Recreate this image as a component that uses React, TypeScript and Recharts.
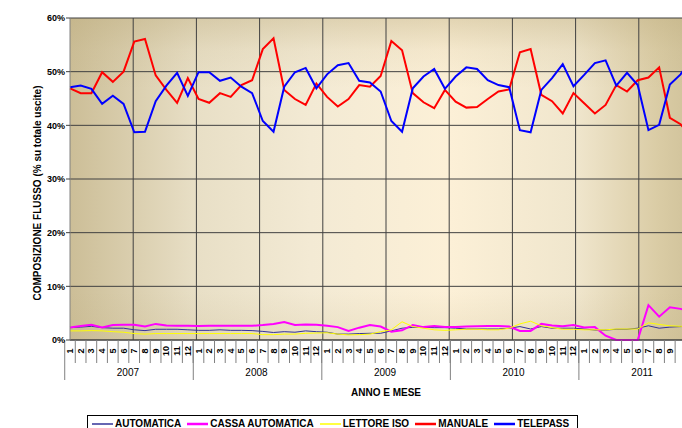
import React from 'react';
import { LineChart, Line, XAxis, YAxis, CartesianGrid, Legend } from 'recharts';

const years = ['2007', '2008', '2009', '2010', '2011'];
const monthLabels = ['1', '2', '3', '4', '5', '6', '7', '8', '9', '10', '11', '12'];

// percent of total exits, Jan 2007 .. Dec 2011 (last month not visible)
const automatica = [
  2.3, 2.4, 2.55, 2.3, 2.2, 2.2, 1.9, 1.75, 2.0, 2.0, 2.0, 1.9,
  1.8, 1.8, 1.9, 1.8, 1.8, 1.75, 1.6, 1.4, 1.55, 1.45, 1.7, 1.55,
  1.45, 1.1, 1.1, 1.2, 1.25, 1.25, 1.7, 2.2, 2.35, 2.35, 2.3, 2.3,
  2.2, 2.05, 2.05, 2.05, 2.05, 2.2, 2.5, 2.05, 2.5, 2.2, 2.2, 2.2,
  2.05, 1.85, 1.85, 2.0, 2.0, 2.2, 2.65, 2.2, 2.4, 2.5, 2.55, null,
];
const cassaAutomatica = [
  2.35, 2.6, 2.85, 2.35, 2.8, 2.85, 2.85, 2.5, 3.0, 2.7, 2.65, 2.65,
  2.6, 2.65, 2.65, 2.65, 2.65, 2.65, 2.8, 3.0, 3.35, 2.8, 2.9, 2.85,
  2.65, 2.4, 1.7, 2.3, 2.8, 2.5, 1.55, 1.8, 2.8, 2.4, 2.6, 2.4,
  2.4, 2.5, 2.55, 2.6, 2.6, 2.5, 1.7, 1.7, 3.0, 2.7, 2.55, 2.8,
  2.35, 2.4, 0.8, 0, 0, 0, 6.5, 4.35, 6.1, 5.8, 5.2, null,
];
const lettoreIso = [
  1.7, 1.7, 1.75, 1.7, 1.55, 1.45, 1.2, 1.1, 1.2, 1.2, 1.2, 1.2,
  1.2, 1.2, 1.2, 1.2, 1.2, 1.2, 1.0, 1.0, 1.1, 1.1, 1.25, 1.3,
  1.35, 1.1, 0.95, 1.0, 1.1, 1.55, 1.9, 3.4, 2.5, 2.2, 1.9, 1.8,
  1.9, 2.0, 2.0, 1.9, 1.9, 2.2, 3.0, 3.5, 2.65, 2.3, 2.0, 2.0,
  1.9, 1.9, 1.9, 2.05, 2.05, 2.05, 3.2, 2.9, 2.65, 2.55, 2.5, null,
];
const manuale = [
  46.9, 46.0, 46.0, 49.9, 48.1, 50.0, 55.6, 56.1, 49.3, 46.6, 44.2, 48.8,
  44.9, 44.2, 46.0, 45.3, 47.5, 48.4, 54.2, 56.2, 46.6, 44.9, 43.8, 47.8,
  45.3, 43.5, 44.9, 47.5, 47.2, 49.2, 55.7, 54.0, 46.0, 44.3, 43.2, 46.6,
  44.4, 43.3, 43.4, 44.9, 46.3, 46.7, 53.6, 54.2, 45.7, 44.5, 42.2, 46.0,
  44.1, 42.2, 43.8, 47.5, 46.3, 48.4, 48.9, 50.8, 41.4, 40.2, 37.9, null,
];
const telepass = [
  47.1, 47.4, 46.8, 44.0, 45.5, 44.0, 38.7, 38.8, 44.5, 47.4, 49.8, 45.5,
  49.9, 49.9, 48.3, 48.9, 47.2, 46.0, 40.8, 38.8, 47.2, 49.9, 50.7, 46.9,
  49.5, 51.2, 51.6, 48.3, 48.0, 46.3, 40.8, 38.8, 46.9, 49.1, 50.5, 46.8,
  49.1, 50.8, 50.5, 48.4, 47.5, 47.1, 39.1, 38.7, 46.6, 48.8, 51.4, 47.3,
  49.4, 51.6, 52.1, 47.4, 49.8, 47.5, 39.1, 40.1, 47.6, 49.5, 52.5, null,
];

const yTicks = [0, 10, 20, 30, 40, 50, 60];

const series = [
  { key: 'automatica', name: 'AUTOMATICA', color: '#333399', width: 1 },
  { key: 'cassa', name: 'CASSA AUTOMATICA', color: '#ff00ff', width: 2 },
  { key: 'lettore', name: 'LETTORE ISO', color: '#ffff00', width: 1 },
  { key: 'manuale', name: 'MANUALE', color: '#ff0000', width: 2 },
  { key: 'telepass', name: 'TELEPASS', color: '#0000ff', width: 2 },
];

const rows = years.flatMap((yr, yi) =>
  monthLabels.map((m, mi) => {
    const i = yi * 12 + mi;
    return {
      key: `${yr}-${m}`,
      automatica: automatica[i],
      cassa: cassaAutomatica[i],
      lettore: lettoreIso[i],
      manuale: manuale[i],
      telepass: telepass[i],
    };
  })
);

// the original picture is cropped on the right and bottom, so the page itself crops the chart
if (typeof document !== 'undefined') document.body.style.margin = '0';

const FONT = '"Liberation Sans", Arial, sans-serif';
const PAGE_W = 682;
const PAGE_H = 428;
const PAD = 8;
const CHART_W = 720;
const CHART_H = 440;
const MARGIN = { top: 10, right: 26, bottom: 38, left: 0 };
const Y_AXIS_W = 62;
const X_AXIS_H = 70;
const PLOT_W = CHART_W - MARGIN.left - MARGIN.right - Y_AXIS_W;
const STEP = PLOT_W / rows.length;

const MonthTick = (props: any) => {
  const { x, y, payload } = props;
  const [yr, m] = String(payload.value).split('-');
  const left = x - STEP / 2;
  const right = x + STEP / 2;
  const first = m === '1';
  // months past the edge of the page are cropped off in the original
  const visible = x + 4 < PAGE_W - PAD;
  return (
    <g>
      <line x1={right} x2={right} y1={y} y2={y + 23} stroke="#808080" />
      {first && <line x1={left} x2={left} y1={y} y2={y + 40} stroke="#808080" />}
      {visible && (
        <text
          transform={`translate(${x},${y + 11}) rotate(-90)`}
          textAnchor="middle"
          dominantBaseline="central"
          fontSize={9}
          fontWeight="bold"
          fontFamily={FONT}
          fill="#000"
        >
          {m}
        </text>
      )}
      {first && (
        <text x={left + STEP * 6} y={y + 36} textAnchor="middle" fontSize={10} fontFamily={FONT} fill="#000">
          {yr}
        </text>
      )}
    </g>
  );
};

const LegendBox = ({ payload }: any) => (
  <div
    style={{
      display: 'flex',
      alignItems: 'center',
      border: '1px solid #000',
      background: '#fff',
      height: 15,
      lineHeight: '12px',
      padding: '0 2px 0 4px',
      fontFamily: FONT,
      fontSize: 10,
      fontWeight: 'bold',
      color: '#000',
      whiteSpace: 'nowrap',
    }}
  >
    {(payload || []).map((p: any) => {
      const s = series.find((d) => d.name === p.value);
      return (
        <span key={p.value} style={{ display: 'flex', alignItems: 'center', marginRight: 6 }}>
          <svg width={21} height={6} style={{ marginRight: 2 }}>
            <line x1={0} x2={21} y1={3} y2={3} stroke={p.color} strokeWidth={s ? s.width + 0.5 : 1} />
          </svg>
          <span>{p.value}</span>
        </span>
      );
    })}
  </div>
);

const YTitle = (props: any) => {
  const { viewBox } = props;
  const cx = viewBox.x + 29;
  const cy = viewBox.y + viewBox.height / 2 + 14;
  return (
    <text
      transform={`translate(${cx},${cy}) rotate(-90)`}
      textAnchor="middle"
      dominantBaseline="central"
      fontSize={10}
      fontWeight="bold"
      fontFamily={FONT}
      fill="#000"
    >
      COMPOSIZIONE FLUSSO (% su totale uscite)
    </text>
  );
};

const XTitle = (props: any) => {
  const { viewBox } = props;
  return (
    <text
      x={viewBox.x + viewBox.width / 2}
      y={viewBox.y + 56}
      textAnchor="middle"
      fontSize={10}
      fontWeight="bold"
      fontFamily={FONT}
      fill="#000"
    >
      ANNO E MESE
    </text>
  );
};

export default function App() {
  return (
    <div
      style={{
        width: PAGE_W,
        height: PAGE_H,
        boxSizing: 'border-box',
        padding: `${PAD}px 0 0 ${PAD}px`,
        overflow: 'hidden',
        background: '#fff',
      }}
    >
      <LineChart width={CHART_W} height={CHART_H} data={rows} margin={MARGIN}>
        <defs>
          <linearGradient id="bgH" x1="0" y1="0" x2="1" y2="0">
            <stop offset="0" stopColor="#ccbe97" />
            <stop offset="0.2" stopColor="#e8dfc6" />
            <stop offset="0.38" stopColor="#f3ead4" />
            <stop offset="0.6" stopColor="#fcf0d7" />
            <stop offset="0.8" stopColor="#f0e6cd" />
            <stop offset="0.93" stopColor="#dacca5" />
            <stop offset="1" stopColor="#cdbf97" />
          </linearGradient>
          <linearGradient id="bgV" x1="0" y1="0" x2="0" y2="1">
            <stop offset="0" stopColor="#bcab7c" stopOpacity={0.4} />
            <stop offset="0.1" stopColor="#bcab7c" stopOpacity={0.12} />
            <stop offset="0.22" stopColor="#bcab7c" stopOpacity={0} />
            <stop offset="0.85" stopColor="#bcab7c" stopOpacity={0} />
            <stop offset="1" stopColor="#bcab7c" stopOpacity={0.18} />
          </linearGradient>
        </defs>
        <CartesianGrid fill="url(#bgH)" horizontal={false} vertical={false} />
        <CartesianGrid
          fill="url(#bgV)"
          stroke="#404040"
          verticalCoordinatesGenerator={({ offset }: any) =>
            years.flatMap((_, yi) => [yi * 12, yi * 12 + 6]).slice(1).map((k) => offset.left + (offset.width * k) / rows.length)
          }
        />
        <XAxis
          dataKey="key"
          interval={0}
          height={X_AXIS_H}
          tickLine={false}
          tickSize={0}
          tickMargin={0}
          axisLine={{ stroke: '#404040' }}
          tick={<MonthTick />}
          label={<XTitle />}
        />
        <YAxis
          width={Y_AXIS_W}
          domain={[0, 60]}
          ticks={yTicks}
          tickFormatter={(v: number) => `${v}%`}
          tick={{ fontSize: 9, fontWeight: 'bold', fontFamily: FONT, fill: '#000' }}
          tickSize={4}
          tickMargin={1}
          tickLine={{ stroke: '#404040' }}
          axisLine={{ stroke: '#808080' }}
          label={<YTitle />}
        />
        <Legend
          layout="horizontal"
          verticalAlign="middle"
          align="center"
          content={<LegendBox />}
          wrapperStyle={{ top: 407, left: 79, width: 'auto' }}
        />
        {series.map((s) => (
          <Line
            key={s.key}
            dataKey={s.key}
            name={s.name}
            stroke={s.color}
            strokeWidth={s.width}
            dot={false}
            isAnimationActive={false}
            connectNulls={false}
          />
        ))}
      </LineChart>
    </div>
  );
}
